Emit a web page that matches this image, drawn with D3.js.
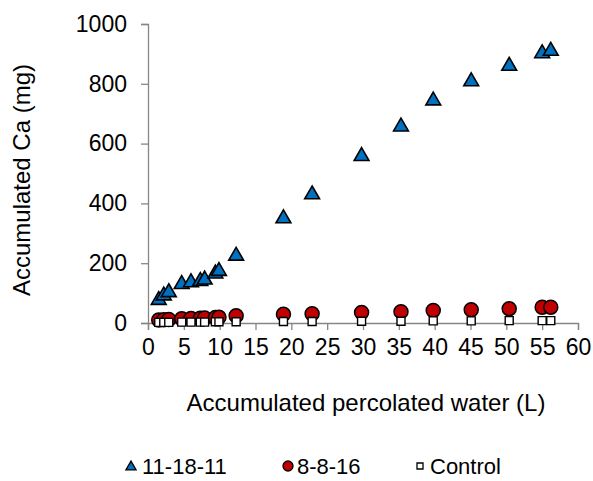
<!DOCTYPE html>
<html><head><meta charset="utf-8">
<script src="https://cdn.jsdelivr.net/npm/d3@7"></script>
<style>body{margin:0;background:#fff}svg{display:block}text{font-family:"Liberation Sans",Arial,sans-serif;fill:#000}</style>
</head><body>
<script>
const xs = [1.5,2.2,2.9,4.7,6.0,7.3,7.9,9.4,9.9,12.3,18.9,22.9,29.8,35.3,39.8,45.1,50.4,55.0,56.2];
const seriesA = [80,95,106,133,139,143,148,168,177,228,353,433,561,660,747,811,863,905,913];
const seriesB = [10,11,12,14,15,16,17,18,19,24,29,31,35,38,42,44,48,53,53];
const seriesC = [2,2,2,3,3,3,3,4,4,4,5,5,6,6,7,7,8,8,8];
const seriesNames = ["11-18-11","8-8-16","Control"];
const xTicks = [0,5,10,15,20,25,30,35,40,45,50,55,60];
const yTicks = [0,200,400,600,800,1000];
const xTitle = "Accumulated percolated water (L)";
const yTitle = "Accumulated Ca (mg)";

const W=593,H=481;
const svg=d3.select("body").append("svg").attr("width",W).attr("height",H);
const x=d3.scaleLinear().domain([0,60]).range([148,578]);
const y=d3.scaleLinear().domain([0,1000]).range([323,24]);
const axisColor="#868686";
const fs=23;

const xa=svg.append("g").attr("transform","translate(0,323)").call(d3.axisBottom(x).tickValues(xTicks).tickFormat(d3.format("d")).tickSize(7).tickPadding(9));
const ya=svg.append("g").attr("transform","translate(148,0)").call(d3.axisLeft(y).tickValues(yTicks).tickFormat(d3.format("d")).tickSize(7).tickPadding(14));
[xa,ya].forEach(g=>{g.select(".domain").attr("stroke",axisColor).attr("stroke-width",1.3);
  g.selectAll(".tick line").attr("stroke",axisColor).attr("stroke-width",1.3);
  g.selectAll(".tick text").style("font-family",'"Liberation Sans",Arial,sans-serif').style("font-size",fs+"px").attr("fill","#000");});

svg.append("text").attr("x",366).attr("y",411).attr("text-anchor","middle").style("font-size","24px").text(xTitle);
svg.append("text").attr("transform","translate(30,180) rotate(-90)").attr("text-anchor","middle").style("font-size","24px").text(yTitle);

const tri=d3.symbol().type(d3.symbolTriangle);
const sq=d3.symbol().type(d3.symbolSquare);
const gA=svg.append("g");
xs.forEach((v,i)=>{
  gA.append("path").attr("d",tri.size(95)()).attr("transform",`translate(${x(v)},${y(seriesA[i])+1})`)
   .attr("fill","#0070C0").attr("stroke","#000").attr("stroke-width",1.6).attr("stroke-linejoin","miter");
});
const gB=svg.append("g");
xs.forEach((v,i)=>{
  gB.append("circle").attr("cx",x(v)).attr("cy",y(seriesB[i])).attr("r",7)
   .attr("fill","#C00000").attr("stroke","#000").attr("stroke-width",1.5);
});
const gC=svg.append("g");
xs.forEach((v,i)=>{
  gC.append("path").attr("d",sq.size(64)()).attr("transform",`translate(${x(v)},${y(seriesC[i])})`)
   .attr("fill","#fff").attr("stroke","#000").attr("stroke-width",1.4);
});

// legend
const lg=svg.append("g");
const items=[{sx:131,tx:142,type:"tri"},{sx:288,tx:297,type:"circ"},{sx:420,tx:430,type:"sq"}];
items.forEach((it,i)=>{
  if(it.type==="tri") lg.append("path").attr("d",tri.size(45)()).attr("transform",`translate(${it.sx},467)`).attr("fill","#0070C0").attr("stroke","#000").attr("stroke-width",1.3);
  if(it.type==="circ") lg.append("circle").attr("cx",it.sx).attr("cy",466).attr("r",5).attr("fill","#C00000").attr("stroke","#000").attr("stroke-width",1.3);
  if(it.type==="sq") lg.append("path").attr("d",sq.size(36)()).attr("transform",`translate(${it.sx},466)`).attr("fill","#fff").attr("stroke","#000").attr("stroke-width",1.3);
  lg.append("text").attr("x",it.tx).attr("y",474).style("font-size","22px").text(seriesNames[i]);
});
</script>
</body></html>
